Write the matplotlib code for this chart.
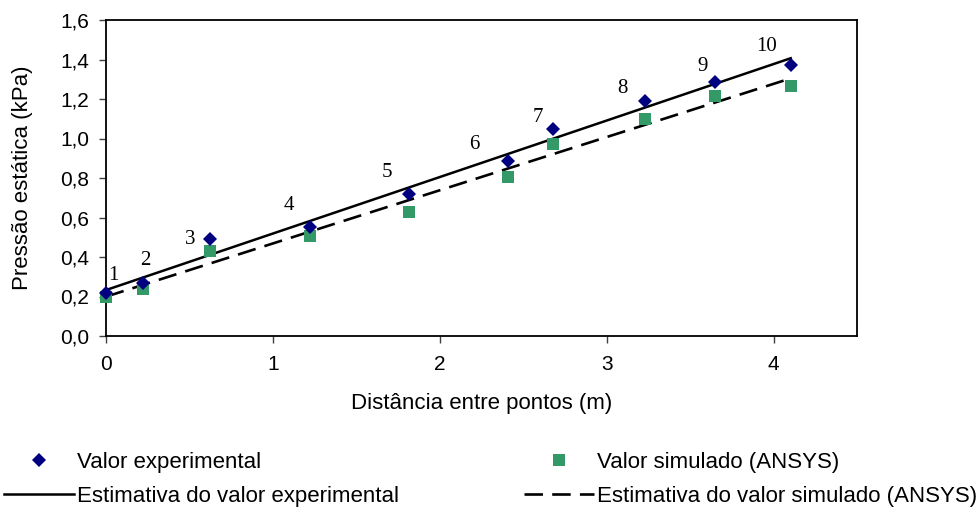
import numpy as np
import matplotlib
matplotlib.use("Agg")
import matplotlib.pyplot as plt
from matplotlib.ticker import FuncFormatter
from matplotlib.lines import Line2D

# Data
distance = [0.0, 0.22, 0.624, 1.224, 1.813, 2.407, 2.677, 3.228, 3.651, 4.103]
p_experimental = [0.22, 0.267, 0.49, 0.553, 0.719, 0.888, 1.048, 1.191, 1.286, 1.371]
p_simulated = [0.20, 0.24, 0.432, 0.506, 0.628, 0.807, 0.972, 1.097, 1.217, 1.266]
point_labels = ["1", "2", "3", "4", "5", "6", "7", "8", "9", "10"]
y_ticks = [0.0, 0.2, 0.4, 0.6, 0.8, 1.0, 1.2, 1.4, 1.6]
x_ticks = [0, 1, 2, 3, 4]

# label offsets in pixels (dx, dy up)
label_offsets_px = [(7, 17), (3, 23), (-20, 0), (-21, 21), (-22, 21),
                    (-33, 16), (-15, 12), (-22, 12), (-13, 16), (-24, 19)]

plt.rcParams['font.family'] = ['Liberation Sans', 'DejaVu Sans']
DPI = 100
fig = plt.figure(figsize=(9.76, 5.13), dpi=DPI)
ax = fig.add_axes([106/976, 1-336/513, (857-106)/976, (336-20)/513])

x = np.array(distance)
ye = np.array(p_experimental)
ys = np.array(p_simulated)

navy = '#000080'
green = '#339966'

# trend lines (linear fits)
ce = np.polyfit(x, ye, 1)
cs = np.polyfit(x, ys, 1)
xl = np.array([x.min(), x.max()])
ax.plot(xl, np.polyval(ce, xl), color='black', lw=1.8, zorder=2)
ax.plot(xl, np.polyval(cs, xl), color='black', lw=1.9, dashes=(7, 3.5), zorder=2)

ax.plot(x, ys, 's', color=green, ms=9, mew=0, zorder=3, clip_on=False)
ax.plot(x, ye, 'D', color=navy, ms=7, mew=0, zorder=4, clip_on=False)

for xi, yi, lab, (dx, dy) in zip(x, ye, point_labels, label_offsets_px):
    ax.annotate(lab, (xi, yi), xytext=(dx*72/DPI, dy*72/DPI), textcoords='offset points',
                ha='center', va='center', fontsize=15, family=['Liberation Serif', 'DejaVu Serif'])

ax.set_xlim(0, 4.5)
ax.set_ylim(0, 1.6)
ax.set_yticks(y_ticks)
ax.set_xticks(x_ticks)
ax.yaxis.set_major_formatter(FuncFormatter(lambda v, p: f"{v:.1f}".replace('.', ',')))
ax.xaxis.set_major_formatter(FuncFormatter(lambda v, p: f"{v:.0f}"))
ax.tick_params(axis='both', labelsize=15, direction='out', length=5, width=1,
               color='#404040', labelcolor='black')
ax.tick_params(axis='y', pad=7)
ax.tick_params(axis='x', pad=9)
for s in ax.spines.values():
    s.set_linewidth(1.3)
    s.set_color('black')

ax.set_xlabel('Distância entre pontos (m)', fontsize=16, va='center')
ax.set_ylabel('Pressão estática (kPa)', fontsize=16, va='center')
ax.xaxis.set_label_coords(0.5, (336-404)/316)
ax.yaxis.set_label_coords((23-106)/751, 0.5)

h_exp = Line2D([], [], marker='D', color=navy, ms=7, mew=0, ls='none')
h_sim = Line2D([], [], marker='s', color=green, ms=9, mew=0, ls='none')
h_eexp = Line2D([], [], color='black', lw=1.8)
h_esim = Line2D([], [], color='black', lw=1.9, dashes=(7, 3.5))
fig.legend([h_exp, h_eexp, h_sim, h_esim],
           ['Valor experimental', 'Estimativa do valor experimental',
            'Valor simulado (ANSYS)', 'Estimativa do valor simulado (ANSYS)'],
           ncol=2, loc='lower left', bbox_to_anchor=(4/976, 6/513), frameon=False,
           fontsize=16, handlelength=3.15, handletextpad=0.15, columnspacing=5.6,
           labelspacing=0.6, borderpad=0, borderaxespad=0)

fig.savefig('out.png', dpi=DPI)
